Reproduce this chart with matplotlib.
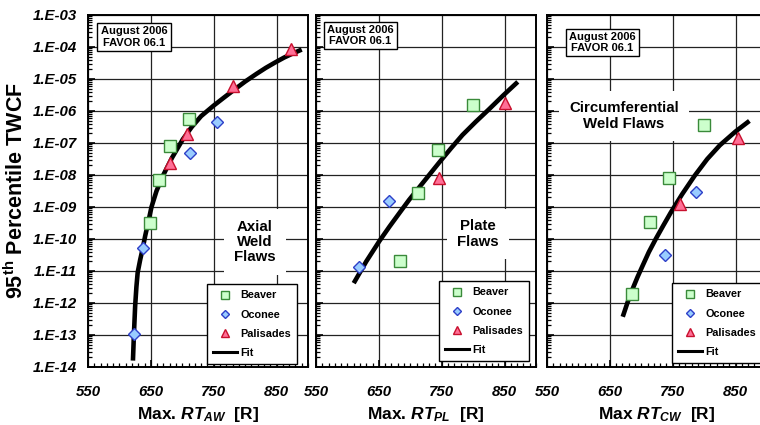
import numpy as np
import matplotlib
matplotlib.use("Agg")
import matplotlib.pyplot as plt
from matplotlib.ticker import FixedLocator, FuncFormatter, LogLocator, NullFormatter, MultipleLocator
from matplotlib.lines import Line2D

plt.rcParams['font.family'] = ['Liberation Sans', 'DejaVu Sans']
plt.rcParams['font.weight'] = 'bold'
plt.rcParams['mathtext.fontset'] = 'custom'
plt.rcParams['mathtext.rm'] = 'Liberation Sans:bold'
plt.rcParams['mathtext.it'] = 'Liberation Sans:bold:italic'
plt.rcParams['mathtext.bf'] = 'Liberation Sans:bold'

# ---------------- data ----------------
# Axial weld flaws
ax_beaver_rt = [648, 663, 680, 710]
ax_beaver_v = [3.1e-10, 6.8e-9, 8.0e-8, 5.5e-7]
ax_oconee_rt = [623, 638, 712, 756]
ax_oconee_v = [1.1e-13, 5.3e-11, 4.8e-8, 4.5e-7]
ax_pal_rt = [681, 707, 780, 873]
ax_pal_v = [2.4e-8, 1.9e-7, 6.0e-6, 8.5e-5]
ax_fit_rt = [621.5, 623, 625, 627, 629, 633, 637, 641, 646, 651, 659, 669, 684, 701, 715, 730,
             750, 767, 785, 800, 818, 833, 848, 862, 876, 890]
ax_fit_log = [-13.8, -13.0, -12.1, -11.5, -11.05, -10.65, -10.3, -9.9, -9.46, -9.0, -8.5, -8.03, -7.45,
              -6.88, -6.5, -6.16, -5.83, -5.57, -5.3, -5.08, -4.84, -4.65, -4.48, -4.33, -4.2, -4.08]

# Plate flaws
pl_beaver_rt = [684, 713, 744, 799]
pl_beaver_v = [2.0e-11, 2.8e-9, 6.0e-8, 1.5e-6]
pl_oconee_rt = [618, 666]
pl_oconee_v = [1.3e-11, 1.5e-9]
pl_pal_rt = [746, 850]
pl_pal_v = [8.3e-9, 1.8e-6]
pl_fit_rt = [610, 630, 651, 667, 683, 698, 714, 730, 746, 765, 783, 804, 825, 848, 871]
pl_fit_log = [-11.38, -10.7, -10.06, -9.61, -9.18, -8.78, -8.39, -8.0, -7.61, -7.16, -6.75, -6.34,
              -5.95, -5.51, -5.09]

# Circumferential weld flaws
cw_beaver_rt = [685, 714, 744, 800]
cw_beaver_v = [1.9e-12, 3.3e-10, 7.8e-9, 3.6e-7]
cw_oconee_rt = [738, 787]
cw_oconee_v = [3.2e-11, 3.0e-9]
cw_pal_rt = [762, 854]
cw_pal_v = [1.2e-9, 1.4e-7]
cw_fit_rt = [670.5, 678, 686, 694, 702, 712, 723, 735, 747, 765, 785, 805, 825, 850, 872]
cw_fit_log = [-12.43, -11.99, -11.57, -11.19, -10.84, -10.41, -10.0, -9.58, -9.17, -8.6, -8.02,
              -7.5, -7.07, -6.64, -6.31]

x_ticks = [550, 650, 750, 850]
panel_labels = ["Axial\nWeld\nFlaws", "Plate\nFlaws", "Circumferential\nWeld Flaws"]
x_labels = ["Max. $RT_{AW}$  [R]", "Max. $RT_{PL}$  [R]", "Max $RT_{CW}$  [R]"]
note_text = "August 2006\nFAVOR 06.1"

panels = [
    (ax_beaver_rt, ax_beaver_v, ax_oconee_rt, ax_oconee_v, ax_pal_rt, ax_pal_v, ax_fit_rt, ax_fit_log),
    (pl_beaver_rt, pl_beaver_v, pl_oconee_rt, pl_oconee_v, pl_pal_rt, pl_pal_v, pl_fit_rt, pl_fit_log),
    (cw_beaver_rt, cw_beaver_v, cw_oconee_rt, cw_oconee_v, cw_pal_rt, cw_pal_v, cw_fit_rt, cw_fit_log),
]

# ---------------- layout ----------------
W, H = 760, 425
fig = plt.figure(figsize=(7.6, 4.25), dpi=100)
lefts = [88, 316, 547]
width = 220
top, bottom = 15, 367
axes = [fig.add_axes([l / W, 1 - bottom / H, width / W, (bottom - top) / H]) for l in lefts]

sq_style = dict(marker='s', ms=8, mfc='#ccffcc', mec='#3a8a3a', mew=1.0, ls='none')
di_style = dict(marker='D', ms=6.2, mfc='#99ccff', mec='#2d3fc8', mew=1.0, ls='none')
tr_style = dict(marker='^', ms=9, mfc='#ff6f96', mec='#c8102e', mew=1.0, ls='none')

note_pos = [(134, 37), (360.5, 35.5), (602.5, 42.5)]
label_pos = [(255, 242), (478, 234), (624, 116)]
leg_anchor = [(297, 364), (529, 361), (762, 363)]

for i, ax in enumerate(axes):
    bv_rt, bv_v, oc_rt, oc_v, pa_rt, pa_v, f_rt, f_log = panels[i]
    ax.set_yscale('log')
    ax.set_xlim(550, 900)
    ax.set_ylim(1e-14, 1e-3)
    ax.grid(True, which='major', color='#222222', lw=0.9)
    ax.set_axisbelow(True)
    ax.plot(f_rt, 10.0 ** np.array(f_log), color='black', lw=3.3, solid_capstyle='butt',
            solid_joinstyle='round', zorder=3)
    ax.plot(bv_rt, bv_v, zorder=4, **sq_style)
    ax.plot(oc_rt, oc_v, zorder=4, **di_style)
    ax.plot(pa_rt, pa_v, zorder=4, **tr_style)

    ax.xaxis.set_major_locator(FixedLocator(x_ticks))
    ax.xaxis.set_minor_locator(MultipleLocator(10))
    ax.yaxis.set_major_locator(LogLocator(base=10, numticks=20))
    ax.yaxis.set_minor_locator(LogLocator(base=10, subs=np.arange(2, 10), numticks=20))
    ax.yaxis.set_minor_formatter(NullFormatter())
    ax.tick_params(axis='both', which='both', direction='in', top=False, right=False)
    ax.tick_params(axis='both', which='major', length=5, width=1.2)
    ax.tick_params(axis='both', which='minor', length=3, width=0.9)
    ax.tick_params(axis='x', pad=13)
    ax.tick_params(axis='y', pad=8)
    for lab in ax.get_xticklabels():
        lab.set_fontstyle('italic')
        lab.set_fontweight('bold')
        lab.set_fontsize(10.8)
    if i == 0:
        ax.yaxis.set_major_formatter(FuncFormatter(lambda v, p: "1.E%03d" % int(round(np.log10(v)))))
        for lab in ax.get_yticklabels():
            lab.set_fontstyle('italic')
            lab.set_fontweight('bold')
            lab.set_fontsize(10.8)
        ax.set_ylabel("95$^{\\rm th}$ Percentile TWCF", fontsize=15.5, fontweight='bold', labelpad=3)
    else:
        ax.set_yticklabels([])
    for s in ax.spines.values():
        s.set_linewidth(1.4)
        s.set_color('black')
    ax.set_xlabel(x_labels[i], fontsize=12.5, fontweight='bold', labelpad=4)

    # note box
    nx, ny = note_pos[i]
    fig.text(nx / W, 1 - ny / H, note_text, ha='center', va='center', ma='center', fontsize=8,
             fontweight='bold', linespacing=1.15,
             bbox=dict(boxstyle='square,pad=0.3', fc='white', ec='black', lw=1.0))
    # panel label
    lx, ly = label_pos[i]
    fig.text(lx / W, 1 - ly / H, panel_labels[i], ha='center', va='center', fontsize=10.8,
             fontweight='bold', linespacing=1.12,
             bbox=dict(boxstyle='square,pad=0.7', fc='white', ec='none'))

    # legend
    handles = [
        Line2D([], [], **dict(sq_style, ms=5.5)),
        Line2D([], [], **dict(di_style, ms=4.5)),
        Line2D([], [], **dict(tr_style, ms=6)),
        Line2D([], [], color='black', lw=2.2),
    ]
    lax, lay = leg_anchor[i]
    leg = ax.legend(handles, ["Beaver", "Oconee", "Palisades", "Fit"], loc='lower right',
                    bbox_to_anchor=(lax / W, 1 - lay / H), bbox_transform=fig.transFigure,
                    prop=dict(weight='bold', size=7.8), frameon=True, fancybox=False,
                    edgecolor='black', framealpha=1, borderaxespad=0, labelspacing=0.85,
                    handlelength=2.2, handletextpad=0.35, borderpad=0.55)
    leg.get_frame().set_linewidth(1.0)
    leg.set_zorder(10)

fig.savefig("out.png", dpi=100)
